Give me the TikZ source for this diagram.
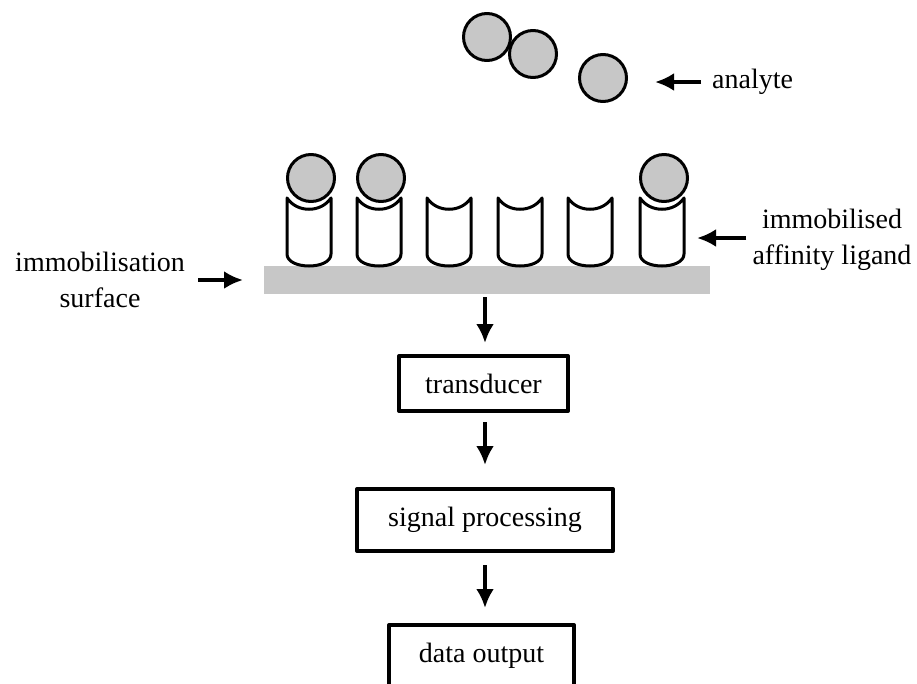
\documentclass[tikz,border=0pt]{standalone}
\usepackage{fontspec}
\setmainfont{Liberation Serif}
\usetikzlibrary{arrows.meta}
\tikzset{>={Latex[length=19pt,width=18pt]}}
\tikzset{
  every node/.style={font=\fontsize{28}{36}\selectfont},
  arrow/.style={->, line width=4.2pt},
  bead/.style={draw, circle, fill=black!22, line width=3pt, minimum size=47pt, inner sep=0pt},
  stage/.style={draw, line width=4pt},
  ligand/.pic={
    \draw[line width=3pt, fill=white] (-22,198) -- (-22,254)
      .. controls (-22,270) and (22,270) .. (22,254) -- (22,198)
      .. controls (12,213) and (-12,213) .. cycle;
  }
}
\begin{document}
\begin{tikzpicture}[x=1pt, y=-1pt, line join=round]
      \useasboundingbox (0,0) rectangle (917,683);
      \clip (0,0) rectangle (917,683);
      \node[fill=black!22, minimum width=446pt, minimum height=28pt, inner sep=0pt] (surface) at (487,280) {};
      \pic at (309,0) {ligand};
      \pic at (379,0) {ligand};
      \pic at (449,0) {ligand};
      \pic at (520,0) {ligand};
      \pic at (590,0) {ligand};
      \pic at (662,0) {ligand};
      \node[bead] (bound1) at (311,178) {};
      \node[bead] (bound2) at (381,178) {};
      \node[bead] (bound3) at (664,178) {};
      \node[bead] (free1) at (487,37) {};
      \node[bead] (free2) at (533,54) {};
      \node[bead] (free3) at (603,78) {};
      \node[anchor=west, inner xsep=11pt, inner ysep=0pt] (analyte) at (701,82) {analyte};
      \coordinate (analytetip) at (655,82);
      \draw[arrow] (analyte.west) -- (analytetip);
      \node[align=center, inner xsep=6pt] (ligandtext) at (832,240) {immobilised\\affinity ligand};
      \coordinate (ligandtip) at (697,238);
      \draw[arrow] (ligandtext.west |- ligandtip) -- (ligandtip);
      \node[anchor=east, align=center, inner xsep=13pt] (surfacetext) at (198,280) {immobilisation\\surface};
      \coordinate (surfacetip) at (243,280);
      \draw[arrow] (surfacetext.east) -- (surfacetip);
      \node[stage, minimum width=169pt, minimum height=55pt] (transducer) at (483.5,383.5) {transducer};
      \node[stage, minimum width=256pt, minimum height=62pt] (signal) at (485,520) {signal processing};
      \node[stage, minimum width=185pt, minimum height=62pt] (output) at (481.5,656) {data output};
      \draw[arrow, shorten <=3pt, shorten >=11pt] (surface.south -| signal.north) -- (transducer.north -| signal.north);
      \draw[arrow, shorten <=9pt, shorten >=22pt] (transducer.south -| signal.north) -- (signal.north);
      \draw[arrow, shorten <=12pt, shorten >=15pt] (signal.south) -- (signal.south |- output.north);
    \end{tikzpicture}
\end{document}
